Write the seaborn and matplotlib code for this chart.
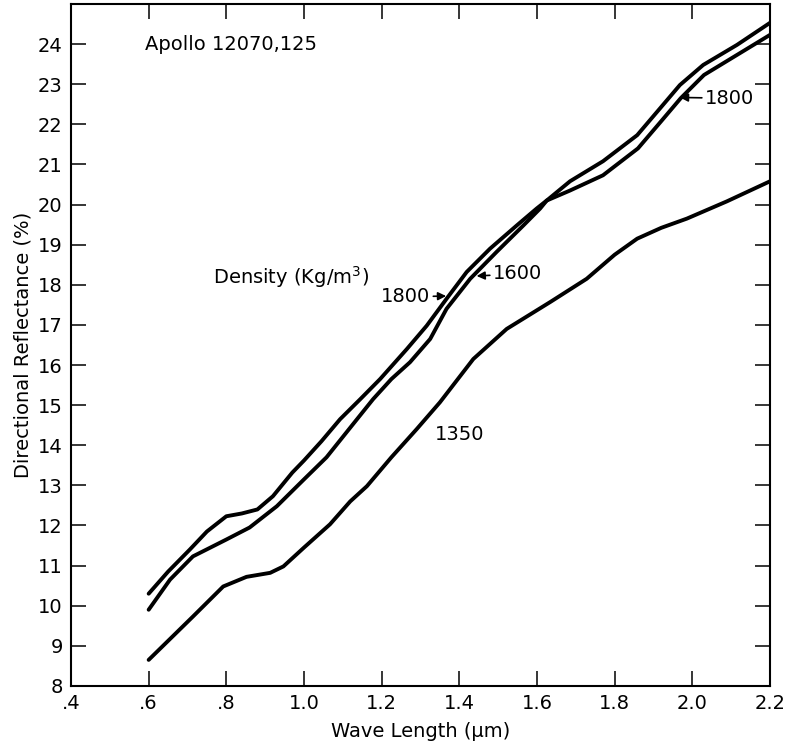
import matplotlib
matplotlib.use("Agg")
import matplotlib.pyplot as plt
import seaborn as sns
import pandas as pd

# Data
x_1800 = [0.60, 0.65, 0.706, 0.75, 0.80, 0.84, 0.88, 0.92, 0.97, 1.00, 1.045, 1.093,
          1.145, 1.196, 1.265, 1.316, 1.367, 1.419, 1.479, 1.548, 1.599, 1.625, 1.685,
          1.77, 1.86, 1.92, 1.97, 2.03, 2.115, 2.20]
y_1800 = [10.3, 10.85, 11.4, 11.85, 12.23, 12.3, 12.4, 12.73, 13.32, 13.62, 14.1, 14.65,
          15.15, 15.65, 16.4, 16.98, 17.65, 18.32, 18.9, 19.48, 19.9, 20.1, 20.35,
          20.73, 21.4, 22.08, 22.65, 23.23, 23.73, 24.23]

x_1600 = [0.60, 0.655, 0.714, 0.80, 0.86, 0.93, 1.00, 1.058, 1.12, 1.178, 1.225, 1.273,
          1.325, 1.367, 1.428, 1.496, 1.565, 1.608, 1.625, 1.685, 1.77, 1.858, 1.917,
          1.968, 2.028, 2.115, 2.20]
y_1600 = [9.9, 10.65, 11.23, 11.65, 11.95, 12.48, 13.15, 13.7, 14.45, 15.15, 15.65, 16.07,
          16.65, 17.4, 18.15, 18.82, 19.48, 19.9, 20.1, 20.58, 21.08, 21.73, 22.4,
          22.98, 23.48, 23.98, 24.53]

x_1350 = [0.60, 0.714, 0.792, 0.852, 0.913, 0.947, 1.00, 1.067, 1.119, 1.162, 1.225,
          1.29, 1.35, 1.436, 1.522, 1.634, 1.728, 1.80, 1.858, 1.92, 1.986, 2.089, 2.20]
y_1350 = [8.65, 9.73, 10.48, 10.72, 10.82, 10.98, 11.45, 12.03, 12.6, 12.98, 13.7,
          14.4, 15.07, 16.15, 16.9, 17.57, 18.15, 18.75, 19.15, 19.42, 19.65, 20.08, 20.58]

x_ticks = [0.4, 0.6, 0.8, 1.0, 1.2, 1.4, 1.6, 1.8, 2.0, 2.2]
x_tick_labels = [".4", ".6", ".8", "1.0", "1.2", "1.4", "1.6", "1.8", "2.0", "2.2"]
y_ticks = list(range(8, 25))

df = pd.concat([
    pd.DataFrame({"x": x_1800, "y": y_1800, "density": "1800"}),
    pd.DataFrame({"x": x_1600, "y": y_1600, "density": "1600"}),
    pd.DataFrame({"x": x_1350, "y": y_1350, "density": "1350"}),
])

sns.set_theme(style="ticks")
plt.rcParams["font.family"] = ["DejaVu Sans"]
plt.rcParams["text.color"] = "black"
plt.rcParams["axes.labelcolor"] = "black"
plt.rcParams["xtick.color"] = "black"
plt.rcParams["ytick.color"] = "black"

fig = plt.figure(figsize=(7.87, 7.51), dpi=100)
ax = fig.add_axes([0.0902, 0.0866, 0.8882, 0.9081])

sns.lineplot(data=df, x="x", y="y", hue="density", units="density", estimator=None,
             palette={"1800": "black", "1600": "black", "1350": "black"},
             linewidth=2.8, legend=False, ax=ax, sort=False,
             solid_joinstyle="round", solid_capstyle="round")

ax.set_xlim(0.4, 2.2)
ax.set_ylim(8, 25)
ax.set_xticks(x_ticks)
ax.set_xticklabels(x_tick_labels)
ax.set_yticks(y_ticks)
ax.tick_params(direction="in", length=11, width=1.1, top=True, right=True,
               labelsize=14, colors="black", pad=6)
for s in ax.spines.values():
    s.set_linewidth(1.5)
    s.set_color("black")

ax.set_xlabel("Wave Length (μm)", fontsize=14, labelpad=6, color="black")
ax.set_ylabel("Directional Reflectance (%)", fontsize=14, labelpad=4, color="black")

ax.text(0.59, 24.0, "Apollo 12070,125", fontsize=14, va="center", ha="left", color="black")
ax.text(0.766, 18.2, "Density (Kg/m$^3$)", fontsize=14, va="center", ha="left", color="black")
ax.text(1.337, 14.28, "1350", fontsize=14, va="center", ha="left", color="black")

arrow = dict(arrowstyle="-|>", color="black", lw=1.2, mutation_scale=12,
             shrinkA=0, shrinkB=0)
ax.annotate("1800", xy=(1.366, 17.72), xytext=(1.3245, 17.7), fontsize=14,
            va="center", ha="right", arrowprops=arrow, color="black")
ax.annotate("1600", xy=(1.4445, 18.22), xytext=(1.487, 18.27), fontsize=14,
            va="center", ha="left", arrowprops=arrow, color="black")
ax.annotate("1800", xy=(1.968, 22.67), xytext=(2.033, 22.65), fontsize=14,
            va="center", ha="left", arrowprops=arrow, color="black")

fig.savefig("out.png", dpi=100)
